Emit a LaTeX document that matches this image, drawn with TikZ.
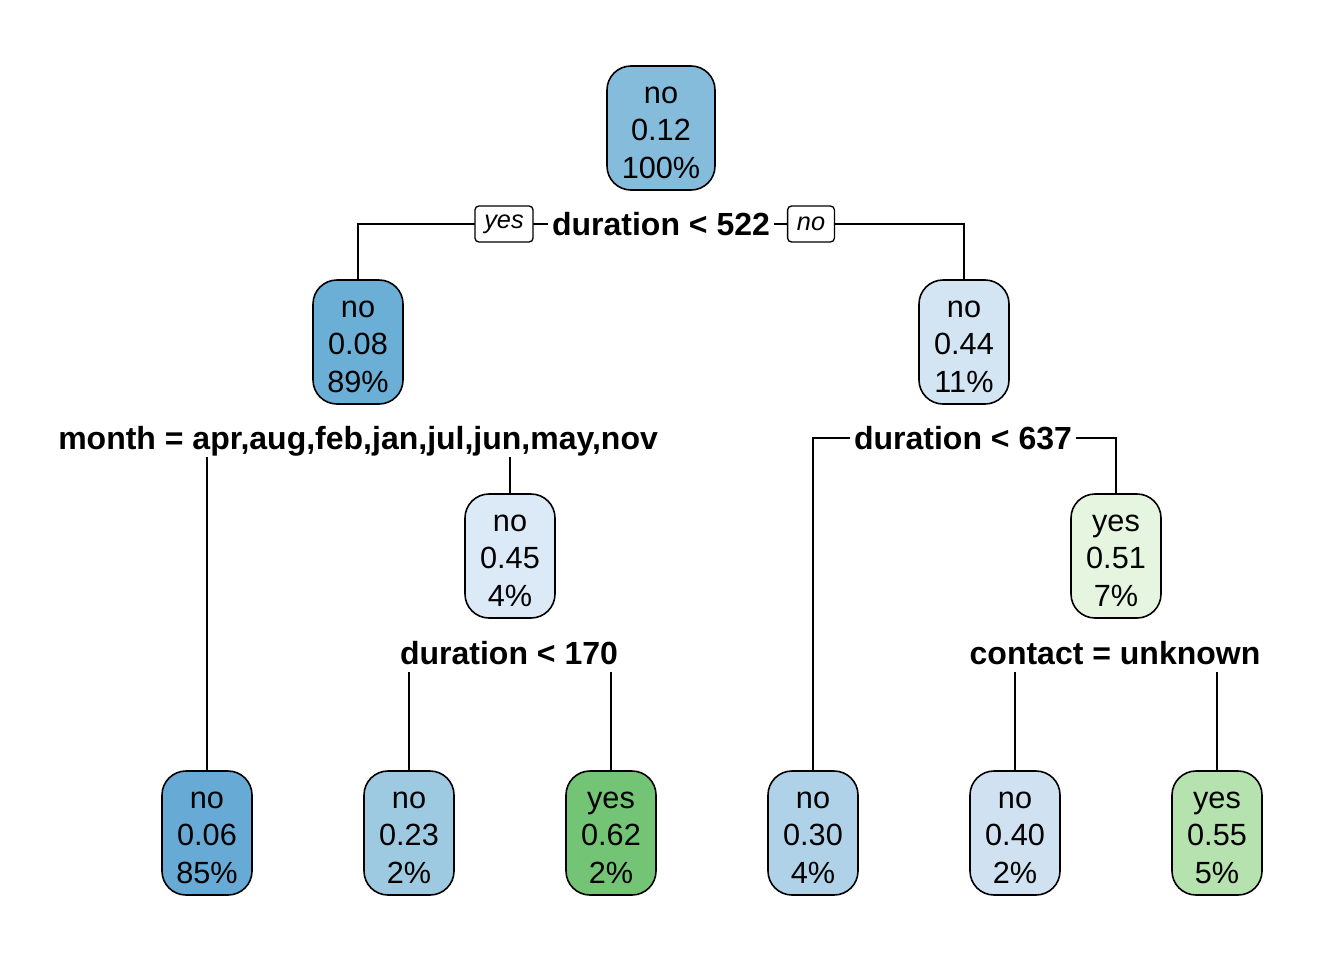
\documentclass[tikz,border=0pt]{standalone}
\usepackage{fontspec}
\setmainfont{Liberation Sans}
\usetikzlibrary{backgrounds}
\definecolor{cRoot}{HTML}{85BCDB}
\definecolor{cB1}{HTML}{6BAED6}
\definecolor{cB0}{HTML}{66AAD5}
\definecolor{cB2}{HTML}{9ECAE1}
\definecolor{cB3}{HTML}{B0D2E8}
\definecolor{cB4}{HTML}{D0E2F2}
\definecolor{cB5}{HTML}{D3E4F3}
\definecolor{cB6}{HTML}{DCE9F6}
\definecolor{cG1}{HTML}{E5F5E0}
\definecolor{cG2}{HTML}{B5E2AE}
\definecolor{cG3}{HTML}{74C476}
\newcommand{\tnlines}[3]{\raisebox{-4pt}[\height][\depth]{\begin{tabular}{@{}c@{}}#1\\#2\\#3\end{tabular}}}
\tikzset{
  tnode/.style={draw, line width=1.2pt, rounded corners=18pt,
    minimum width=67.5pt, minimum height=93pt, inner sep=0pt,
    font=\fontsize{23}{28.3}\selectfont},
  split/.style={fill=white, inner ysep=0pt, inner xsep=3pt, text height=23.2pt, text depth=6pt,
    font=\fontsize{24}{29}\selectfont\bfseries},
  yn/.style={draw, fill=white, line width=1pt, rounded corners=3pt, inner xsep=7pt,
    minimum height=27pt, font=\fontsize{19}{22}\selectfont\itshape},
  edge/.style={line width=1.2pt}
}
\begin{document}
\begin{tikzpicture}[x=0.75pt, y=-0.75pt]
\useasboundingbox (0,0) rectangle (1344,960);
% tree nodes
\node[tnode, fill=cRoot, minimum width=81pt] (root) at (661,128) {\tnlines{no}{0.12}{100\%}};
\node[tnode, fill=cB1] (n2) at (358,342) {\tnlines{no}{0.08}{89\%}};
\node[tnode, fill=cB5] (n3) at (964,342) {\tnlines{no}{0.44}{11\%}};
\node[tnode, fill=cB6] (n4) at (510,556) {\tnlines{no}{0.45}{4\%}};
\node[tnode, fill=cG1] (n5) at (1116,556) {\tnlines{yes}{0.51}{7\%}};
\node[tnode, fill=cB0] (l1) at (207,833) {\tnlines{no}{0.06}{85\%}};
\node[tnode, fill=cB2] (l2) at (409,833) {\tnlines{no}{0.23}{2\%}};
\node[tnode, fill=cG3] (l3) at (611,833) {\tnlines{yes}{0.62}{2\%}};
\node[tnode, fill=cB3] (l4) at (813,833) {\tnlines{no}{0.30}{4\%}};
\node[tnode, fill=cB4] (l5) at (1015,833) {\tnlines{no}{0.40}{2\%}};
\node[tnode, fill=cG2] (l6) at (1217,833) {\tnlines{yes}{0.55}{5\%}};
% split labels
\node[split] (s1) at (661,224) {duration < 522};
\node[split] (s2) at (358,438) {month = apr,aug,feb,jan,jul,jun,may,nov};
\node[split] (s3) at (963,438) {duration < 637};
\node[split] (s4) at (509,653) {duration < 170};
\node[split] (s5) at (1115,653) {contact = unknown};
% yes / no boxes
\node[yn] (yes) at (504,224) {yes};
\node[yn] (no) at (811,224) {no};
% connectors
\begin{scope}[on background layer]
\draw[edge] (s1.center) -| (n2.north);
\draw[edge] (s1.center) -| (n3.north);
\draw[edge] (s2.center) -| (l1.north);
\draw[edge] (s2.center) -| (n4.north);
\draw[edge] (s3.center) -| (l4.north);
\draw[edge] (s3.center) -| (n5.north);
\draw[edge] (s4.center) -| (l2.north);
\draw[edge] (s4.center) -| (l3.north);
\draw[edge] (s5.center) -| (l5.north);
\draw[edge] (s5.center) -| (l6.north);
\end{scope}
\end{tikzpicture}
\end{document}
